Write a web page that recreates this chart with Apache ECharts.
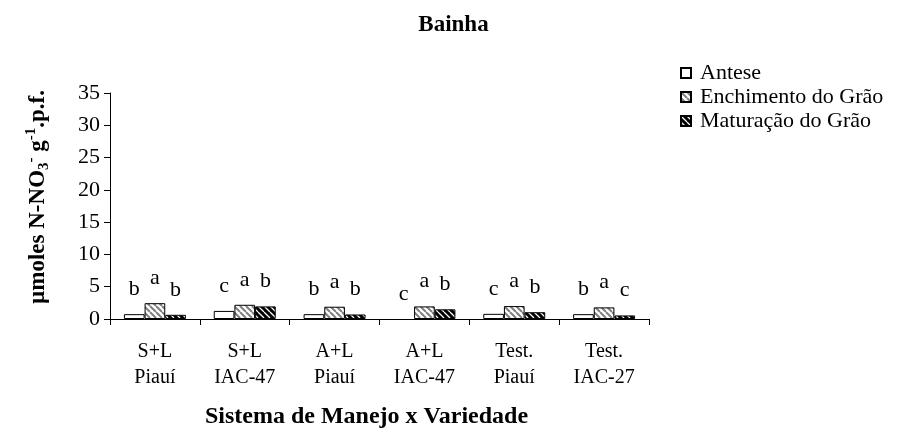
<!DOCTYPE html>
<html>
<head>
<meta charset="utf-8">
<script src="https://cdn.jsdelivr.net/npm/echarts@6/dist/echarts.min.js"></script>
<style>
  html, body { margin: 0; padding: 0; background: #fff; }
  #chart { width: 907px; height: 434px; }
</style>
</head>
<body>
<div id="chart"></div>
<script>
// categorias (sistema de manejo x variedade)
const categories = ['S+L\nPiauí', 'S+L\nIAC-47', 'A+L\nPiauí', 'A+L\nIAC-47', 'Test.\nPiauí', 'Test.\nIAC-27']
const seriesNames = ['Antese', 'Enchimento do Grão', 'Maturação do Grão']

// valores
const antese = [0.75, 1.25, 0.75, 0, 0.8, 0.75]
const enchimento = [2.45, 2.2, 1.9, 1.95, 2.0, 1.8]
const maturacao = [0.65, 1.95, 0.7, 1.5, 1.05, 0.55]

// letras do teste de médias
const letrasAntese = ['b', 'c', 'b', 'c', 'c', 'b']
const letrasEnchimento = ['a', 'a', 'a', 'a', 'a', 'a']
const letrasMaturacao = ['b', 'b', 'b', 'b', 'b', 'c']

const FONT = '"Liberation Serif", "Times New Roman", serif'

// padrão de hachura
function hatch(bg, fg, lw){
  const c = document.createElement('canvas')
  c.width = 6
  c.height = 6
  const ctx = c.getContext('2d')
  ctx.fillStyle = bg
  ctx.fillRect(0, 0, 6, 6)
  ctx.strokeStyle = fg
  ctx.lineWidth = lw
  ctx.beginPath()
  for (let k = -6; k <= 6; k += 6) {
    ctx.moveTo(k, 0)
    ctx.lineTo(k + 6, 6)
  }
  ctx.stroke()
  return { image: c, repeat: 'repeat' }
}

const fills = ['#ffffff', hatch('#ffffff', '#808080', 2), hatch('#000000', '#ffffff', 1.3)]
const dataSets = [antese, enchimento, maturacao]
const letterSets = [letrasAntese, letrasEnchimento, letrasMaturacao]

const chart = echarts.init(document.getElementById('chart'))

const option = {
  animation: false,
  textStyle: { fontFamily: FONT, color: '#000' },
  title: {
    text: 'Bainha',
    left: 'center',
    top: 9,
    textStyle: { fontFamily: FONT, fontSize: 23, fontWeight: 'bold', color: '#000' }
  },
  legend: {
    orient: 'vertical',
    left: 675,
    top: 57,
    itemWidth: 10,
    itemHeight: 10,
    itemGap: 2,
    icon: 'rect',
    textStyle: { fontFamily: FONT, fontSize: 22, color: '#000', lineHeight: 22, padding: [0, 0, 0, 4] },
    data: seriesNames
  },
  grid: { left: 110, right: 258, top: 93, bottom: 114 },
  xAxis: {
    type: 'category',
    data: categories,
    name: 'Sistema de Manejo x Variedade',
    nameLocation: 'middle',
    nameGap: 86,
    nameTextStyle: { fontFamily: FONT, fontSize: 24, fontWeight: 'bold', color: '#000', padding: [0, 26, 0, 0] },
    axisLine: { lineStyle: { color: '#000', width: 1 } },
    axisTick: { show: true, length: 6, lineStyle: { color: '#000' } },
    axisLabel: { fontFamily: FONT, fontSize: 20, color: '#000', lineHeight: 26, margin: 20 }
  },
  yAxis: {
    type: 'value',
    min: 0,
    max: 35,
    interval: 5,
    name: 'µmoles N-NO{sub|3}{sup|-} g{sup|-1}.p.f.',
    nameLocation: 'middle',
    nameGap: 58,
    nameTextStyle: {
      fontFamily: FONT, fontSize: 23, fontWeight: 'bold', color: '#000', lineHeight: 28,
      padding: [0, 0, 0, 18],
      rich: {
        sub: { fontFamily: FONT, fontSize: 15, fontWeight: 'bold', verticalAlign: 'bottom', lineHeight: 28 },
        sup: { fontFamily: FONT, fontSize: 15, fontWeight: 'bold', verticalAlign: 'top', lineHeight: 28 }
      }
    },
    axisLine: { show: true, lineStyle: { color: '#000', width: 1 } },
    axisTick: { show: true, length: 6, lineStyle: { color: '#000' } },
    axisLabel: { fontFamily: FONT, fontSize: 22, color: '#000', margin: 10 },
    splitLine: { show: false }
  },
  series: seriesNames.map((name, i) => ({
    name: name,
    type: 'bar',
    barGap: 0,
    barCategoryGap: '31%',
    data: dataSets[i].map((v) => (v === 0 ? { value: v, itemStyle: { borderWidth: 0 } } : v)),
    itemStyle: { color: fills[i], borderColor: '#000', borderWidth: 1 },
    label: {
      show: true,
      position: 'top',
      distance: 14,
      fontFamily: FONT,
      fontSize: 22,
      color: '#000',
      formatter: (p) => letterSets[i][p.dataIndex]
    }
  }))
}

chart.setOption(option)
</script>
</body>
</html>
